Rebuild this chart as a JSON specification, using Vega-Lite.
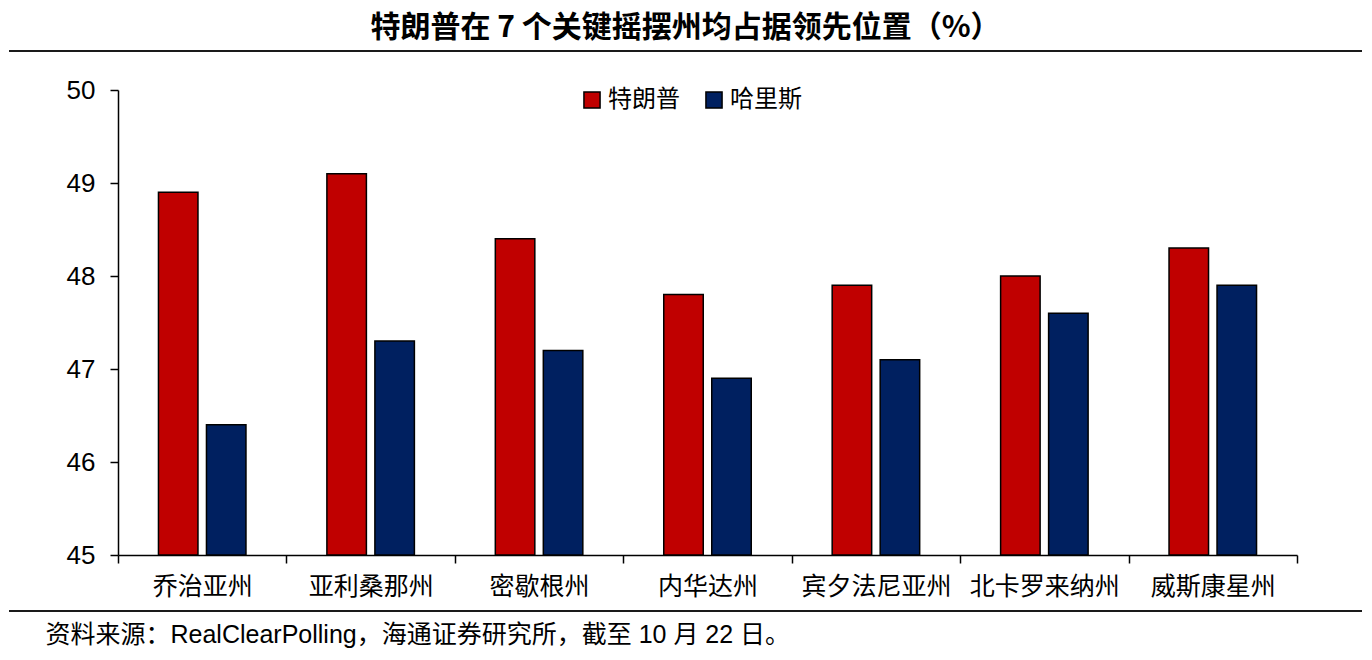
{
  "$schema": "https://vega.github.io/schema/vega-lite/v6.json",
  "width": 1353,
  "height": 560,
  "autosize": {"type": "none"},
  "padding": {"left": 9, "top": 51, "right": 10, "bottom": 49},
  "background": "white",
  "title": {
    "text": "特朗普在 7 个关键摇摆州均占据领先位置（%）",
    "font": "Noto Sans CJK SC",
    "fontSize": 30,
    "fontWeight": "bold",
    "color": "black",
    "anchor": "middle",
    "offset": 7
  },
  "data": {
    "values": [
      {"州": "乔治亚州", "候选人": "特朗普", "支持率": 48.9},
      {"州": "乔治亚州", "候选人": "哈里斯", "支持率": 46.4},
      {"州": "亚利桑那州", "候选人": "特朗普", "支持率": 49.1},
      {"州": "亚利桑那州", "候选人": "哈里斯", "支持率": 47.3},
      {"州": "密歇根州", "候选人": "特朗普", "支持率": 48.4},
      {"州": "密歇根州", "候选人": "哈里斯", "支持率": 47.2},
      {"州": "内华达州", "候选人": "特朗普", "支持率": 47.8},
      {"州": "内华达州", "候选人": "哈里斯", "支持率": 46.9},
      {"州": "宾夕法尼亚州", "候选人": "特朗普", "支持率": 47.9},
      {"州": "宾夕法尼亚州", "候选人": "哈里斯", "支持率": 47.1},
      {"州": "北卡罗来纳州", "候选人": "特朗普", "支持率": 48.0},
      {"州": "北卡罗来纳州", "候选人": "哈里斯", "支持率": 47.6},
      {"州": "威斯康星州", "候选人": "特朗普", "支持率": 48.3},
      {"州": "威斯康星州", "候选人": "哈里斯", "支持率": 47.9}
    ]
  },
  "layer": [
    {
      "mark": {"type": "bar", "stroke": "black", "strokeWidth": 1.5},
      "encoding": {
        "x": {
          "field": "州",
          "type": "nominal",
          "sort": null,
          "scale": {"range": [109, 1288], "paddingInner": 0, "paddingOuter": 0},
          "axis": {
            "orient": "bottom",
            "offset": -56,
            "tickBand": "extent",
            "tickSize": 8,
            "tickWidth": 1.5,
            "tickColor": "black",
            "domainColor": "black",
            "domainWidth": 1.5,
            "labelFont": "Noto Sans CJK SC",
            "labelFontSize": 25,
            "labelColor": "black",
            "labelAngle": 0,
            "labelPadding": 11,
            "labelLimit": 300,
            "grid": false,
            "title": "资料来源：RealClearPolling，海通证券研究所，截至 10 月 22 日。",
            "titleFont": "'Liberation Sans', 'Noto Sans CJK SC'",
            "titleFontSize": 25,
            "titleFontWeight": "normal",
            "titleColor": "black",
            "titleAnchor": "start",
            "titleAlign": "left",
            "titleBaseline": "top",
            "titleX": 36,
            "titleY": 67
          }
        },
        "xOffset": {
          "field": "候选人",
          "type": "nominal",
          "sort": ["特朗普", "哈里斯"],
          "scale": {"paddingInner": 0.177, "paddingOuter": 0.843}
        },
        "y": {
          "field": "支持率",
          "type": "quantitative",
          "scale": {"domain": [45, 50], "zero": false, "nice": false, "range": [504, 39]},
          "axis": {
            "orient": "left",
            "offset": -109,
            "values": [45, 46, 47, 48, 49, 50],
            "format": "d",
            "tickSize": 8,
            "tickWidth": 1.5,
            "tickColor": "black",
            "domainColor": "black",
            "domainWidth": 1.5,
            "labelFont": "Liberation Sans",
            "labelFontSize": 26,
            "labelColor": "black",
            "labelPadding": 15,
            "grid": false,
            "title": null
          }
        },
        "y2": {"datum": 45},
        "color": {
          "field": "候选人",
          "type": "nominal",
          "sort": ["特朗普", "哈里斯"],
          "scale": {"domain": ["特朗普", "哈里斯"], "range": ["#C00000", "#002060"]},
          "legend": {
            "orient": "none",
            "legendX": 571,
            "legendY": 37,
            "direction": "horizontal",
            "title": null,
            "symbolType": "square",
            "symbolSize": 260,
            "symbolStrokeColor": "black",
            "symbolStrokeWidth": 1.5,
            "labelFont": "Noto Sans CJK SC",
            "labelFontSize": 24,
            "labelColor": "black",
            "labelOffset": 4,
            "columnPadding": 22
          }
        }
      }
    },
    {
      "data": {"values": [{}]},
      "mark": {"type": "rule", "color": "#1a1a1a", "strokeWidth": 2},
      "encoding": {"y": {"datum": 50.419, "type": "quantitative"}}
    },
    {
      "data": {"values": [{}]},
      "mark": {"type": "rule", "color": "#1a1a1a", "strokeWidth": 2},
      "encoding": {"y": {"datum": 44.398, "type": "quantitative"}}
    }
  ],
  "config": {"view": {"stroke": null}}
}
